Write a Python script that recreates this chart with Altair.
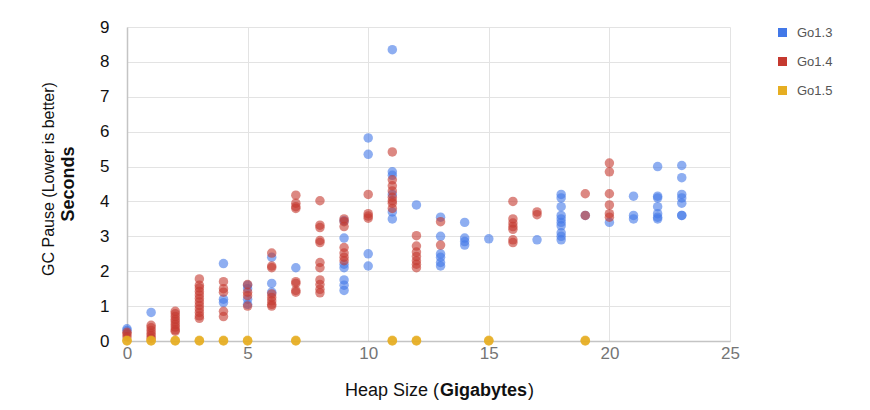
import altair as alt
import pandas as pd

series_names = ["Go1.3", "Go1.4", "Go1.5"]
series_colors = ["#4278e8", "#c5392f", "#e6ae22"]

go13_x = [0, 0, 1, 4, 4, 4, 5, 5, 5, 5, 6, 6, 6, 7,
          9, 9, 9, 9, 9, 9, 9, 10, 10, 10, 10,
          11, 11, 11, 11, 11, 11, 12, 13, 13, 13, 13, 13, 13,
          14, 14, 14, 14, 15, 17,
          18, 18, 18, 18, 18, 18, 18, 18, 18, 18, 19, 20,
          21, 21, 21, 22, 22, 22, 22, 22, 22, 22,
          23, 23, 23, 23, 23, 23, 23]
go13_y = [0.35, 0.3, 0.82, 2.22, 1.2, 1.1, 1.6, 1.5, 1.2, 1.05, 2.4, 1.65, 1.4, 2.1,
          3.45, 2.95, 2.2, 2.1, 1.75, 1.6, 1.45, 5.82, 5.35, 2.5, 2.15,
          8.35, 4.85, 4.75, 4.2, 3.7, 3.5, 3.9, 3.55, 3.0, 2.5, 2.4, 2.25, 2.15,
          3.4, 2.95, 2.85, 2.75, 2.93, 2.9,
          4.2, 4.1, 3.85, 3.6, 3.5, 3.4, 3.3, 3.1, 3.0, 2.9, 3.6, 3.4,
          4.15, 3.6, 3.5, 5.0, 4.15, 4.1, 3.85, 3.65, 3.55, 3.5,
          5.03, 4.68, 4.2, 4.1, 3.95, 3.6, 3.6]

go14_x = [0, 0, 0, 1, 1, 1, 1, 1, 1,
          2, 2, 2, 2, 2, 2, 2, 2, 2,
          3, 3, 3, 3, 3, 3, 3, 3, 3, 3, 3, 3,
          4, 4, 4, 4, 4, 5, 5, 5, 5,
          6, 6, 6, 6, 6, 6, 6, 6,
          7, 7, 7, 7, 7, 7, 7, 7,
          8, 8, 8, 8, 8, 8, 8, 8, 8, 8, 8,
          9, 9, 9, 9, 9, 9, 9, 10, 10, 10, 10,
          11, 11, 11, 11, 11, 11, 11, 11,
          12, 12, 12, 12, 12, 12, 12, 13, 13,
          16, 16, 16, 16, 16, 16, 16, 17, 17, 19, 19,
          20, 20, 20, 20, 20, 20]
go14_y = [0.25, 0.2, 0.12, 0.45, 0.38, 0.3, 0.22, 0.15, 0.08,
          0.85, 0.78, 0.7, 0.62, 0.55, 0.47, 0.4, 0.32, 0.28,
          1.78, 1.6, 1.52, 1.42, 1.32, 1.22, 1.12, 1.02, 0.92, 0.82, 0.72, 0.65,
          1.7, 1.5, 1.4, 0.85, 0.7, 1.62, 1.4, 1.3, 1.0,
          2.52, 2.15, 2.1, 1.35, 1.25, 1.15, 1.05, 1.0,
          4.18, 3.95, 3.85, 3.8, 1.7, 1.65, 1.45, 1.4,
          4.02, 3.32, 3.25, 2.88, 2.82, 2.25, 2.1, 1.75, 1.62, 1.48, 1.38,
          3.5, 3.42, 3.28, 2.68, 2.52, 2.4, 2.3, 4.2, 3.65, 3.58, 3.52,
          5.42, 4.62, 4.45, 4.3, 4.12, 4.02, 3.95, 3.8,
          3.02, 2.72, 2.55, 2.42, 2.3, 2.2, 2.1, 3.42, 2.75,
          4.0, 3.5, 3.38, 3.28, 3.2, 2.9, 2.82, 3.7, 3.62, 4.22, 3.6,
          5.1, 4.85, 4.22, 3.9, 3.65, 3.55]

go15_x = [0, 0, 0, 1, 1, 1, 2, 2, 2, 3, 3, 3, 4, 4, 4, 5, 5, 5,
          7, 7, 7, 11, 11, 11, 12, 12, 12, 15, 15, 15, 19, 19, 19]
go15_y = [0.01, 0.0, 0.02, 0.01, 0.0, 0.02, 0.01, 0.0, 0.02, 0.01, 0.0, 0.02,
          0.01, 0.0, 0.02, 0.01, 0.0, 0.02, 0.01, 0.0, 0.02, 0.01, 0.0, 0.02,
          0.01, 0.0, 0.02, 0.01, 0.0, 0.02, 0.01, 0.0, 0.02]

x_ticks = [0, 5, 10, 15, 20, 25]
y_ticks = [0, 1, 2, 3, 4, 5, 6, 7, 8, 9]

y_title_1 = ["GC Pause (Lower is better)"]
y_title_2 = ["Seconds"]
x_title_1 = ["Heap Size ("]
x_title_2 = ["Gigabytes"]
x_title_3 = [")"]

rows = []
for name, xs, ys in [("Go1.3", go13_x, go13_y), ("Go1.4", go14_x, go14_y), ("Go1.5", go15_x, go15_y)]:
    for a, b in zip(xs, ys):
        rows.append({"heap": a, "pause": b, "version": name})
df = pd.DataFrame(rows)

FONT = "Liberation Sans"

points = alt.Chart(df).mark_circle(size=90, opacity=0.6).encode(
    x=alt.X("heap:Q", scale=alt.Scale(domain=[0, 25], nice=False),
            axis=alt.Axis(values=x_ticks, title=None, labelColor="#757575",
                          labelFontSize=17, labelPadding=4, ticks=False,
                          labelFlush=False,
                          domainColor="#c4c4c4", domainWidth=1.5,
                          gridColor="#e3e3e3", labelFont=FONT)),
    y=alt.Y("pause:Q", scale=alt.Scale(domain=[0, 9], nice=False),
            axis=alt.Axis(values=y_ticks, title=None, labelColor="#111111",
                          labelFontSize=17, labelPadding=18, ticks=False,
                          labelFlush=False,
                          domainColor="#c4c4c4", domainWidth=1.5,
                          gridColor="#e3e3e3", labelFont=FONT)),
    color=alt.Color("version:N",
                    scale=alt.Scale(domain=series_names, range=series_colors),
                    legend=alt.Legend(title=None, orient="none", legendX=649, legendY=-1,
                                      symbolType="square", symbolSize=81,
                                      symbolOpacity=1, symbolStrokeWidth=0,
                                      labelFontSize=13, labelColor="#555555",
                                      labelFont=FONT, labelOffset=8,
                                      rowPadding=15, padding=0)),
    order=alt.Order("version:N"),
)

def label(texts, x, y, angle=0, align="center", bold=False, size=16, baseline="middle"):
    return alt.Chart(pd.DataFrame({"t": texts})).mark_text(
        angle=angle, align=align, baseline=baseline, font=FONT, fontSize=size,
        fontWeight="bold" if bold else "normal", color="#111111"
    ).encode(text="t:N", x=alt.value(x), y=alt.value(y))

yt1 = label(y_title_1, -78, 152, angle=270, size=16)
yt2 = label(y_title_2, -58, 157, angle=270, bold=True, size=18)
xt1 = label(x_title_1, 312, 369, align="right", size=18, baseline="alphabetic")
xt2 = label(x_title_2, 313, 369, align="left", bold=True, size=18, baseline="alphabetic")
xt3 = label(x_title_3, 401, 369, align="left", size=18, baseline="alphabetic")

chart = alt.layer(points, yt1, yt2, xt1, xt2, xt3).properties(
    width=603, height=314,
    autosize=alt.AutoSizeParams(type="none"),
    padding={"left": 119, "top": 19, "right": 128, "bottom": 60},
    background="white",
).configure_view(stroke=None)

chart.save("out.html", embed_options={"renderer": "svg", "actions": False})
